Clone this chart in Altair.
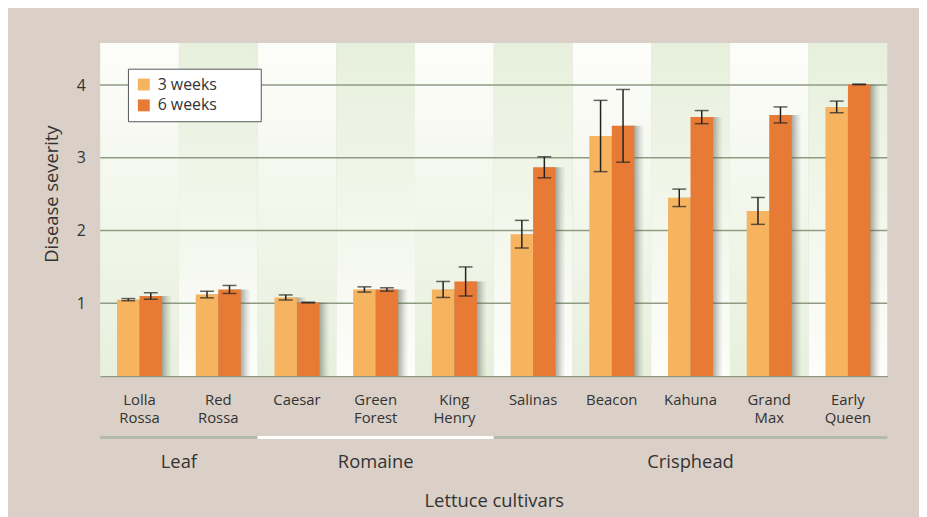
import altair as alt
import pandas as pd

categories = ["Lolla Rossa", "Red Rossa", "Caesar", "Green Forest", "King Henry",
              "Salinas", "Beacon", "Kahuna", "Grand Max", "Early Queen"]
cultivar_group = ["Leaf", "Leaf", "Romaine", "Romaine", "Romaine",
                  "Crisphead", "Crisphead", "Crisphead", "Crisphead", "Crisphead"]
group_names = ["Leaf", "Romaine", "Crisphead"]
series = ["3 weeks", "6 weeks"]
sev_3wk = [1.05, 1.12, 1.08, 1.19, 1.19, 1.95, 3.30, 2.45, 2.27, 3.70]
err_3wk = [0.015, 0.045, 0.035, 0.036, 0.11, 0.19, 0.49, 0.12, 0.185, 0.08]
sev_6wk = [1.10, 1.19, 1.01, 1.19, 1.30, 2.87, 3.44, 3.56, 3.59, 4.01]
err_6wk = [0.045, 0.055, 0.005, 0.023, 0.20, 0.145, 0.50, 0.09, 0.11, 0.005]
grid_values = [1, 2, 3, 4]
y_max = 4.58

colors = ["#f6b461", "#e77b36"]
BG = "#dad0c7"
GRID = "#8e9b82"
TEXT = "#333333"
W, H = 794, 336
STEP = W / len(categories)
SHADOW_SHIFT = 10

rows = []
for i, c in enumerate(categories):
    for s, v, e in ((series[0], sev_3wk[i], err_3wk[i]), (series[1], sev_6wk[i], err_6wk[i])):
        rows.append({"cultivar": c, "series": s, "value": v, "lo": v - e, "hi": v + e})
df = pd.DataFrame(rows)

cols = pd.DataFrame({"cultivar": categories, "parity": [i % 2 for i in range(len(categories))]})

grows = []
for g in group_names:
    idx = [i for i, cg in enumerate(cultivar_group) if cg == g]
    grows.append({"group": g, "start": min(idx), "end": max(idx) + 1,
                  "center": (min(idx) + max(idx) + 1) / 2})
gdf = pd.DataFrame(grows)

yscale = alt.Scale(domain=[0, y_max], nice=False, zero=True)
y_axis = alt.Axis(values=grid_values, format="d", ticks=False, domain=False, grid=False,
                  labelFontSize=16, labelColor=TEXT, labelPadding=15, titleFontSize=18.5,
                  titleFontWeight="normal", titleColor=TEXT, titlePadding=15, titleY=152)
Y_TITLE = "Disease severity"


def xs():
    return alt.Scale(domain=categories, paddingInner=0, paddingOuter=0)


x_plain = alt.X("cultivar:N", scale=xs(), axis=None)
off_enc = alt.XOffset("series:N", sort=series, scale=alt.Scale(paddingOuter=0.75, paddingInner=0))
off_shadow = alt.XOffset("series:N", sort=series,
                         scale=alt.Scale(paddingOuter=0.75, paddingInner=0,
                                         range=[SHADOW_SHIFT, SHADOW_SHIFT + STEP]))

white_top = alt.Gradient(gradient="linear", x1=0, y1=0, x2=0, y2=1,
                         stops=[alt.GradientStop(color="#fdfdfa", offset=0),
                                alt.GradientStop(color="#e7f0dc", offset=1)])
green_top = alt.Gradient(gradient="linear", x1=0, y1=0, x2=0, y2=1,
                         stops=[alt.GradientStop(color="#e7f0dc", offset=0),
                                alt.GradientStop(color="#fdfdfa", offset=1)])

bg_even = alt.Chart(cols).transform_filter("datum.parity == 0").mark_rect(fill=white_top).encode(
    x=x_plain, y=alt.datum(y_max, scale=yscale, axis=y_axis, title=Y_TITLE), y2=alt.datum(0))
bg_odd = alt.Chart(cols).transform_filter("datum.parity == 1").mark_rect(fill=green_top).encode(
    x=x_plain, y=alt.datum(y_max, scale=yscale, axis=y_axis, title=Y_TITLE), y2=alt.datum(0))
grid = alt.Chart(pd.DataFrame({"v": grid_values})).mark_rule(color=GRID, strokeWidth=1.5).encode(
    y=alt.Y("v:Q", scale=yscale, axis=y_axis, title=Y_TITLE))
bg_layer = alt.layer(bg_even, bg_odd, grid)

shadow_grad = alt.Gradient(gradient="linear", x1=0, y1=0, x2=1, y2=0,
                           stops=[alt.GradientStop(color="rgba(85,90,80,0.55)", offset=0.5),
                                  alt.GradientStop(color="rgba(85,90,80,0.42)", offset=0.62),
                                  alt.GradientStop(color="rgba(85,90,80,0.16)", offset=0.82),
                                  alt.GradientStop(color="rgba(85,90,80,0)", offset=1)])
shadow = alt.Chart(df).mark_bar(fill=shadow_grad).encode(
    x=alt.X("cultivar:N", scale=xs(), axis=None), xOffset=off_shadow,
    y=alt.Y("value:Q", scale=yscale, axis=y_axis, title=Y_TITLE), y2=alt.datum(0))

x_axis = alt.Axis(labelAngle=0, ticks=False, domain=True, domainColor=GRID, domainWidth=1.5,
                  labelExpr="split(datum.label, ' ')", labelFontSize=15, labelLineHeight=18,
                  labelColor=TEXT, labelPadding=17, titleFontSize=18.5, titleFontWeight="normal",
                  titleColor=TEXT, titlePadding=67)
x_main = alt.X("cultivar:N", scale=xs(), title="Lettuce cultivars", axis=x_axis)

bars = alt.Chart(df).mark_bar().encode(
    x=x_main,
    xOffset=off_enc,
    y=alt.Y("value:Q", scale=yscale, title=Y_TITLE, axis=y_axis),
    color=alt.Color("series:N", sort=series, scale=alt.Scale(domain=series, range=colors),
                    legend=alt.Legend(title=None, orient="none", legendX=28, legendY=26,
                                      symbolType="square", symbolSize=144, symbolStrokeWidth=0,
                                      labelFontSize=16, labelColor=TEXT, labelOffset=6,
                                      labelExpr="datum.label + '\u2800\u2800\u2800'",
                                      rowPadding=5, padding=8, fillColor="white",
                                      strokeColor="#555555")))

err_rule = alt.Chart(df).mark_rule(color="#222222", strokeWidth=1.5).encode(
    x=x_main, xOffset=off_enc, y=alt.Y("lo:Q", scale=yscale, title=Y_TITLE, axis=y_axis), y2="hi:Q")
cap_lo = alt.Chart(df).mark_tick(orient="horizontal", size=14, thickness=1.5, color="#222222").encode(
    x=x_main, xOffset=off_enc, y=alt.Y("lo:Q", scale=yscale, title=Y_TITLE, axis=y_axis))
cap_hi = alt.Chart(df).mark_tick(orient="horizontal", size=14, thickness=1.5, color="#222222").encode(
    x=x_main, xOffset=off_enc, y=alt.Y("hi:Q", scale=yscale, title=Y_TITLE, axis=y_axis))

main_layer = alt.layer(bars, err_rule, cap_lo, cap_hi)

gx = alt.Scale(domain=[0, len(categories)], nice=False, zero=False)
g_rule = alt.Chart(gdf).mark_rule(strokeWidth=3).encode(
    x=alt.X("start:Q", scale=gx, axis=None), x2="end:Q", y=alt.value(398),
    color=alt.condition("datum.group == 'Romaine'", alt.value("#ffffff"), alt.value("#b4bba8")))
g_text = alt.Chart(gdf).mark_text(fontSize=18.5, color=TEXT, baseline="middle").encode(
    x=alt.X("center:Q", scale=gx, axis=None), y=alt.value(423), text="group:N")

chart = alt.layer(bg_layer, shadow, main_layer, g_rule, g_text).resolve_scale(
    x="independent", xOffset="independent").properties(
    width=W, height=H, autosize=alt.AutoSizeParams(type="none"),
    padding={"left": 93, "top": 33, "right": 32, "bottom": 140},
    background=BG,
).configure(font="Open Sans").configure_view(stroke=None)

chart.save("out.html", embed_options={"renderer": "svg", "actions": False})
